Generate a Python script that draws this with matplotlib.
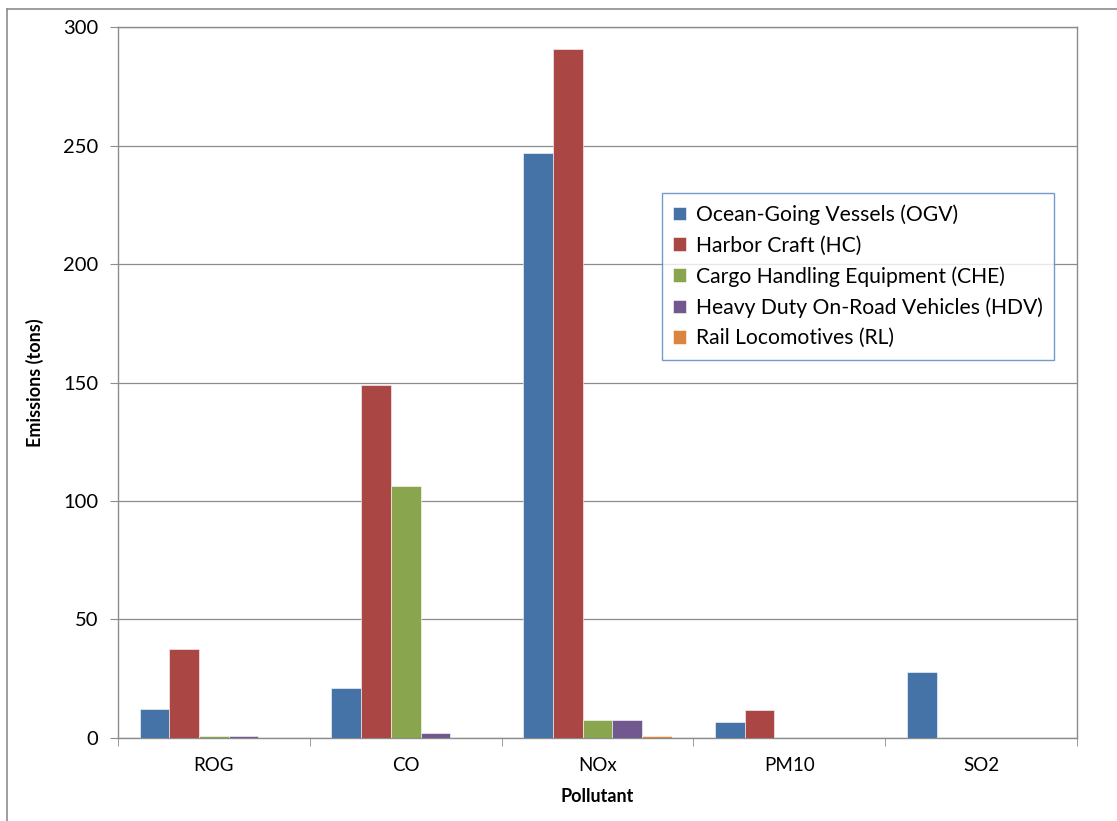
import matplotlib.pyplot as plt
import numpy as np
from matplotlib.lines import Line2D

plt.rcParams['font.family'] = ['Lato', 'DejaVu Sans']

# data
pollutants = ["ROG", "CO", "NOx", "PM10", "SO2"]
sources = ["Ocean-Going Vessels (OGV)", "Harbor Craft (HC)",
           "Cargo Handling Equipment (CHE)", "Heavy Duty On-Road Vehicles (HDV)",
           "Rail Locomotives (RL)"]
ogv = [12.2, 21.0, 246.8, 6.7, 27.8]
hc = [37.5, 149.0, 290.7, 11.8, 0.0]
che = [0.8, 106.3, 7.6, 0.0, 0.0]
hdv = [0.7, 2.0, 7.6, 0.0, 0.0]
rl = [0.0, 0.0, 0.8, 0.0, 0.0]

colors = ["#4572A7", "#AA4643", "#89A54E", "#71588F", "#DB843D"]

fig = plt.figure(figsize=(11.17, 8.21), dpi=100)
ax = fig.add_axes([0.1056, 0.1011, 0.8586, 0.866])

x = np.arange(len(pollutants))
width = 0.155
series = [ogv, hc, che, hdv, rl]
for i, (vals, name, c) in enumerate(zip(series, sources, colors)):
    ax.bar(x + (i - 2) * width, vals, width, color=c, label=name,
           edgecolor="white", linewidth=0.4, zorder=3)

ax.set_xlim(-0.5, 4.5)
ax.set_ylim(0, 300)
ax.set_yticks(range(0, 301, 50))
ax.yaxis.grid(True, color="#8c8c8c", linewidth=0.9, zorder=0)
ax.set_xticks(x)
ax.set_xticklabels(pollutants, fontsize=13.5)
ax.set_xticks(np.arange(-0.5, 5, 1), minor=True)
ax.tick_params(axis="x", which="major", length=0, pad=14)
ax.tick_params(axis="x", which="minor", length=6, color="#8c8c8c", direction="out")
ax.tick_params(axis="y", length=6, color="#8c8c8c", labelsize=14.5, pad=8)
for s in ax.spines.values():
    s.set_color("#8c8c8c")
    s.set_linewidth(1.0)

ax.set_ylabel("Emissions (tons)", fontsize=13, fontweight="bold", labelpad=14)
ax.set_xlabel("Pollutant", fontsize=13, fontweight="bold", labelpad=10)

leg = ax.legend(loc="upper left", bbox_to_anchor=(0.567, 0.767), fontsize=15.2,
                frameon=True, fancybox=False, handlelength=0.6, handleheight=0.6,
                handletextpad=0.45, labelspacing=0.5, borderpad=0.55, borderaxespad=0)
leg.get_frame().set_edgecolor("#4F81BD")
leg.get_frame().set_linewidth(1.0)

# outer chart border (only top and left edges visible in the crop)
fig.add_artist(Line2D([0.006, 1.0], [0.989, 0.989], transform=fig.transFigure,
                      color="#8c8c8c", linewidth=1.2))
fig.add_artist(Line2D([0.006, 0.006], [0.0, 0.989], transform=fig.transFigure,
                      color="#8c8c8c", linewidth=1.2))

fig.savefig("out.png", dpi=100)
